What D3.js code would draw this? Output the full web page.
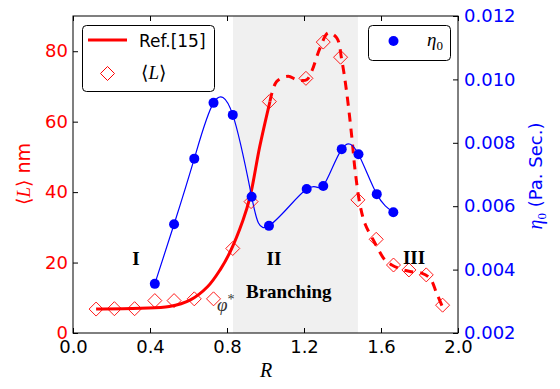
<!DOCTYPE html>
<html><head><meta charset="utf-8">
<script src="https://cdn.jsdelivr.net/npm/d3@7"></script>
<style>body{margin:0;background:#fff}svg{display:block}</style>
</head><body>
<svg id="c" width="560" height="389"></svg>
<script>
// ---- data ----
const lR = [0.12,0.215,0.32,0.425,0.525,0.63,0.73,0.83,0.925,1.02,1.21,1.30,1.39,1.48,1.575,1.665,1.745,1.835,1.92];
const lVal = [6.8,6.9,6.9,9.2,9.2,9.7,9.7,24.0,37.3,65.7,72.3,82.6,78.3,37.8,26.6,19.3,17.9,16.5,7.9];
const etaR = [0.425,0.525,0.63,0.73,0.83,0.928,1.018,1.214,1.30,1.396,1.483,1.578,1.664];
const etaVal = [0.00355,0.00543,0.00750,0.00926,0.00888,0.00630,0.00538,0.00654,0.00664,0.00780,0.00764,0.00638,0.00581];
const refSolidR = [0.12,0.35,0.50,0.61,0.70,0.765,0.816,0.883,0.92,0.97,1.023];
const refSolidL = [6.8,7.0,7.5,9.4,13.2,18,23,32,38.7,52.9,65.7];
const refDashR = [1.023,1.058,1.118,1.162,1.214,1.24,1.283,1.326,1.37,1.396,1.422,1.448,1.465,1.491,1.517,1.56,1.621,1.656,1.716,1.759,1.811,1.855,1.889,1.917];
const refDashL = [65.7,71.4,72.9,71.9,71.9,74.3,80.9,85.2,83.8,77.6,68.2,55.8,46.4,36.4,31.0,26.4,20.7,19.3,17.9,17.4,17.0,15.5,11.3,7.7];
const xTicks = [0,0.4,0.8,1.2,1.6,2.0];
const yLTicks = [0,20,40,60,80];
const yRTicks = [0.002,0.004,0.006,0.008,0.010,0.012];
const branchRange = [0.831,1.48];

// ---- layout ----
const L=73,R=458,T=16,B=333;
const svg=d3.select("#c");
const x=d3.scaleLinear([0,2],[L,R]);
const yL=d3.scaleLinear([0,90],[B,T]);
const yR=d3.scaleLinear([0.002,0.012],[B,T]);
const red="#ff0000", blue="#0000ff";
const sans="'DejaVu Sans', sans-serif", serif="'Liberation Serif', 'DejaVu Serif', serif";

// shaded
svg.append("rect").attr("x",x(branchRange[0])).attr("y",T).attr("width",x(branchRange[1])-x(branchRange[0])).attr("height",B-T).attr("fill","#f0f0f0");

// curves
svg.append("defs").append("clipPath").attr("id","pc").append("rect").attr("x",L).attr("y",T).attr("width",R-L).attr("height",B-T);
const g=svg.append("g").attr("clip-path","url(#pc)");

const solid=refSolidR.map((r,i)=>[r,refSolidL[i]]);
const dash=refDashR.map((r,i)=>[r,refDashL[i]]);
const lineL=d3.line().x(d=>x(d[0])).y(d=>yL(d[1])).curve(d3.curveCatmullRom);
g.append("path").attr("d",lineL(solid)).attr("fill","none").attr("stroke",red).attr("stroke-width",3);
g.append("path").attr("d",lineL(dash)).attr("fill","none").attr("stroke",red).attr("stroke-width",3).attr("stroke-dasharray","9,7");

const etaPts=etaR.map((r,i)=>[r,etaVal[i]]);
const lineE=d3.line().x(d=>x(d[0])).y(d=>yR(d[1])).curve(d3.curveNatural);
g.append("path").attr("d",lineE(etaPts)).attr("fill","none").attr("stroke",blue).attr("stroke-width",1.2);

// diamonds
const dm=7;
const diamond=(cx,cy)=>`M${cx},${cy-dm}L${cx+dm},${cy}L${cx},${cy+dm}L${cx-dm},${cy}Z`;
svg.append("g").selectAll("path").data(lR.map((r,i)=>[r,lVal[i]])).join("path")
  .attr("d",d=>diamond(x(d[0]),yL(d[1]))).style("fill","none").style("stroke",red).style("stroke-width","0.9px");
svg.append("g").selectAll("circle").data(etaPts).join("circle")
  .attr("cx",d=>x(d[0])).attr("cy",d=>yR(d[1])).attr("r",5).attr("fill",blue);

// frame
svg.append("rect").attr("x",L).attr("y",T).attr("width",R-L).attr("height",B-T).attr("fill","none").attr("stroke","#000").attr("stroke-width",1);

// axes
function style(sel,color){
  sel.select(".domain").remove();
  sel.selectAll("line").attr("stroke","#000");
  sel.selectAll("text").attr("fill",color).style("font-family",sans).style("font-size","18px");
}
svg.append("g").attr("transform",`translate(0,${B})`).call(d3.axisBottom(x).tickValues(xTicks).tickSize(-5).tickPadding(7).tickFormat(d3.format(".1f"))).call(s=>style(s,"#000"));
svg.append("g").attr("transform",`translate(0,${T})`).call(d3.axisTop(x).tickValues(xTicks).tickSize(-5).tickFormat("")).call(s=>style(s,"#000"));
svg.append("g").attr("transform",`translate(${L},0)`).call(d3.axisLeft(yL).tickValues(yLTicks).tickSize(-5).tickPadding(5)).call(s=>style(s,red));
svg.append("g").attr("transform",`translate(${R},0)`).call(d3.axisRight(yR).tickValues(yRTicks).tickSize(-5).tickPadding(6).tickFormat(d3.format(".3f"))).call(s=>style(s,blue));

// axis labels
svg.append("text").attr("x",266).attr("y",377).attr("text-anchor","middle").style("font-family",serif).style("font-style","italic").style("font-size","20px").text("R");
const yl=svg.append("text").attr("transform","translate(30,174) rotate(-90)").attr("text-anchor","middle").attr("fill",red).style("font-size","19px");
yl.append("tspan").style("font-family","'DejaVu Serif', serif").text("⟨");
yl.append("tspan").style("font-family",serif).style("font-style","italic").text("L");
yl.append("tspan").style("font-family","'DejaVu Serif', serif").text("⟩");
yl.append("tspan").style("font-family",sans).text(" nm");
const yr=svg.append("text").attr("transform","translate(542,176) rotate(-90)").attr("text-anchor","middle").attr("fill",blue).style("font-size","18px");
yr.append("tspan").style("font-family",serif).style("font-style","italic").style("font-size","20px").text("η");
yr.append("tspan").style("font-family",serif).style("font-size","13px").attr("dy",4).text("0");
yr.append("tspan").style("font-family",sans).attr("dy",-4).text(" (Pa. Sec.)");

// region labels
const rl=[["I",136,265,"middle"],["II",274,265,"middle"],["III",414,264,"middle"],["Branching",246,298,"start"]];
svg.append("g").selectAll("text").data(rl).join("text").attr("x",d=>d[1]).attr("y",d=>d[2]).attr("text-anchor",d=>d[3])
  .style("font-family",serif).style("font-weight","bold").style("font-size","19px").text(d=>d[0]);
const ph=svg.append("text").attr("x",217).attr("y",311).attr("fill","#333").style("font-family",serif).style("font-size","19px");
ph.append("tspan").style("font-style","italic").text("φ");
ph.append("tspan").attr("dy",-7).style("font-size","14px").text("*");

// legends
svg.append("rect").attr("x",82.5).attr("y",25.5).attr("width",132).attr("height",66).attr("rx",4).attr("fill","#fff").attr("stroke","#000").attr("stroke-width",1);
svg.append("line").attr("x1",88).attr("x2",127).attr("y1",40).attr("y2",40).attr("stroke",red).attr("stroke-width",3);
svg.append("text").attr("x",139).attr("y",47).style("font-family",sans).style("font-size","17px").text("Ref.[15]");
svg.append("path").attr("d",diamond(107.5,73.5)).style("fill","none").style("stroke",red).style("stroke-width","1px");
const lt=svg.append("text").attr("x",141).attr("y",79).style("font-size","19px");
lt.append("tspan").style("font-family","'DejaVu Serif', serif").text("⟨");
lt.append("tspan").style("font-family",serif).style("font-style","italic").text("L");
lt.append("tspan").style("font-family","'DejaVu Serif', serif").text("⟩");

svg.append("rect").attr("x",368.5).attr("y",25.5).attr("width",82).attr("height",35).attr("rx",4).attr("fill","#fff").attr("stroke","#000").attr("stroke-width",1);
svg.append("circle").attr("cx",393.5).attr("cy",41).attr("r",5).attr("fill",blue);
const et=svg.append("text").attr("x",427).attr("y",46).style("font-family",serif).style("font-size","19px");
et.append("tspan").style("font-style","italic").text("η");
et.append("tspan").attr("dy",4).style("font-size","13px").text("0");
</script>
</body></html>
